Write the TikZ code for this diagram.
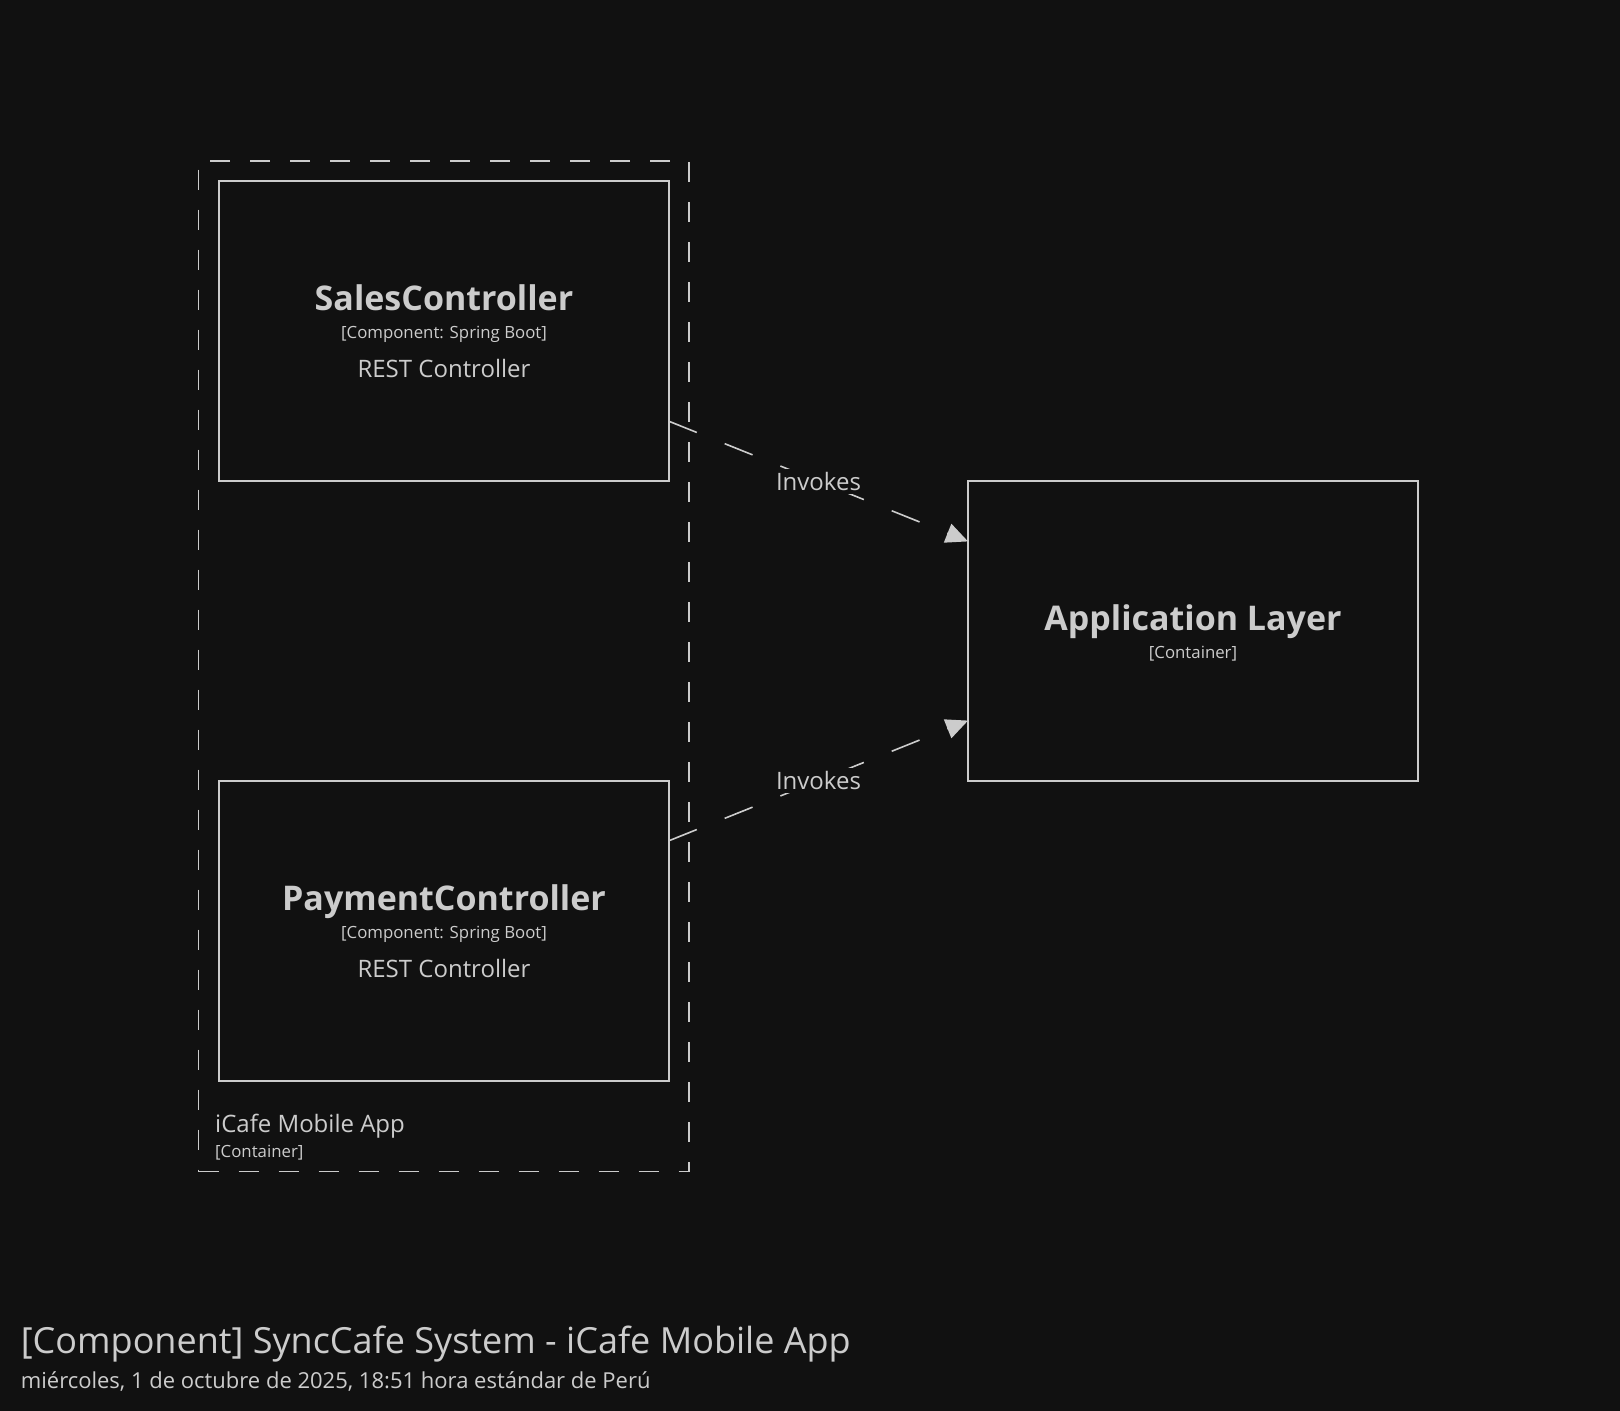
\documentclass[tikz,border=0pt]{standalone}
\usepackage{fontspec}
\setmainfont{Open Sans}
\usetikzlibrary{arrows.meta,positioning}
\definecolor{bgdark}{HTML}{111111}
\definecolor{c4fg}{HTML}{CCCCCC}
\tikzset{
  c4box/.style={draw=c4fg, line width=1.6pt, minimum width=450pt, minimum height=300pt, inner sep=0pt, outer sep=0pt},
  c4boundary/.style={draw=c4fg, line width=1.8pt, dash pattern=on 20pt off 20pt, minimum width=490.5pt, minimum height=1010.5pt, inner sep=0pt, outer sep=0pt},
  c4name/.style={text=c4fg, anchor=base, inner sep=0pt, font=\fontsize{34}{40}\selectfont\bfseries},
  c4tech/.style={text=c4fg, anchor=base, inner sep=0pt, font=\fontsize{16.8}{20}\selectfont},
  c4desc/.style={text=c4fg, anchor=base, inner sep=0pt, font=\fontsize{24}{28}\selectfont},
  c4rel/.style={draw=c4fg, line width=1.6pt, dash pattern=on 30pt off 30pt, -{Triangle[length=22pt,width=20pt]}},
  c4label/.style={text=c4fg, fill=bgdark, inner sep=3pt, font=\fontsize{24}{28}\selectfont}
}
\begin{document}
\begin{tikzpicture}[x=1pt, y=-1pt]
  \useasboundingbox (0,0) rectangle (1620,1411);
  \fill[bgdark] (0,0) rectangle (1620,1411);

  % --- 容器边界 iCafe Mobile App ---
  \node[c4boundary] (mobileapp) at (443.75,666.25) {};
  \node[c4desc, anchor=base west] (mobilename) at (215,1132) {iCafe Mobile App};
  \node[c4tech, anchor=base west] (mobiletech) at (215,1157) {[Container]};

  % --- 组件 ---
  \node[c4box] (sales) at (444,331) {};
  \node[c4name] (salesname) at ([yshift=21pt]sales.center) {SalesController};
  \node[c4tech] (salestech) at ([yshift=-7pt]sales.center) {[Component: Spring Boot]};
  \node[c4desc] (salesdesc) at ([yshift=-46pt]sales.center) {REST Controller};

  \node[c4box] (payment) at (444,931) {};
  \node[c4name] (paymentname) at ([yshift=21pt]payment.center) {PaymentController};
  \node[c4tech] (paymenttech) at ([yshift=-7pt]payment.center) {[Component: Spring Boot]};
  \node[c4desc] (paymentdesc) at ([yshift=-46pt]payment.center) {REST Controller};

  % --- 外部容器 ---
  \node[c4box] (applayer) at (1193,631) {};
  \node[c4name] (appname) at ([yshift=1pt]applayer.center) {Application Layer};
  \node[c4tech] (apptech) at ([yshift=-27pt]applayer.center) {[Container]};

  % --- 调用关系 ---
  \draw[c4rel] (sales) -- node[c4label] (salesrel) {Invokes} (applayer);
  \draw[c4rel] (payment) -- node[c4label] (paymentrel) {Invokes} (applayer);

  % --- 标题 ---
  \node[text=c4fg, anchor=base west, inner sep=0pt, font=\fontsize{36}{44}\selectfont] (title) at (20.7,1353) {[Component] SyncCafe System - iCafe Mobile App};
  \node[text=c4fg, anchor=base west, inner sep=0pt, font=\fontsize{22}{26}\selectfont] (date) at (20.7,1388) {miércoles, 1 de octubre de 2025, 18:51 hora estándar de Perú};
\end{tikzpicture}
\end{document}
